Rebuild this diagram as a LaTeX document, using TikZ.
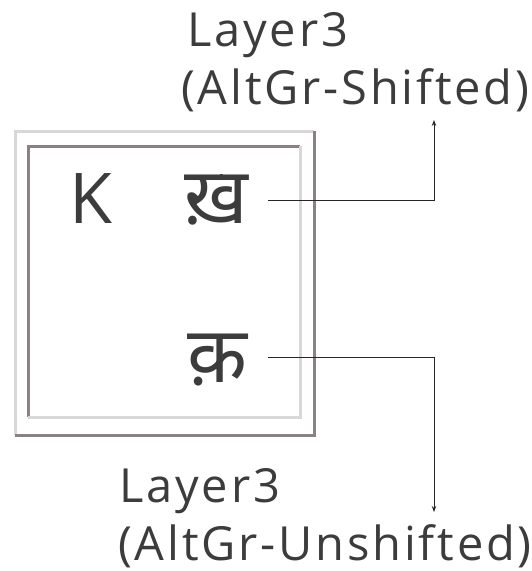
\documentclass[tikz,border=0pt]{standalone}
\usepackage{fontspec}
\setmainfont{Open Sans}
\newfontfamily\labfont[LetterSpace=6]{Open Sans}
\newfontfamily\devfont[Script=Devanagari]{Noto Sans}
\usetikzlibrary{arrows.meta}
\definecolor{darkfr}{HTML}{8A8282}
\definecolor{lightfr}{HTML}{D8D8D8}
\definecolor{txt}{HTML}{3C3C3C}
\tikzset{
  lab/.style={inner sep=0pt, anchor=base west, text=txt, font=\labfont\fontsize{47}{58}\selectfont},
  glyph/.style={inner sep=0pt, anchor=base west, text=txt},
  darkedge/.style={draw=darkfr, line width=3pt},
  lightedge/.style={draw=lightfr, line width=3pt},
  conn/.style={draw=black!85, line width=1pt},
  tip/.style={-{Stealth[length=6pt,width=4.5pt]}}
}
\begin{document}
\begin{tikzpicture}[x=1pt,y=-1pt]
\useasboundingbox (0,0) rectangle (531,571);
% bevelled key frame
\draw[lightedge] (15,435) -- (15,131) -- (314,131);
\draw[darkedge] (314,131) -- (314,435) -- (15,435);
\draw[darkedge] (28,417) -- (28,146) -- (300,146);
\draw[lightedge] (300,146) -- (300,417) -- (28,417);
% key legends
\node[glyph, font=\fontsize{70}{70}\selectfont\color{black!60}] (k) at (69,223) {K};
\node[glyph, font=\devfont\fontsize{78}{78}\selectfont] (kha) at (184,223) {ख़};
\node[glyph, font=\devfont\fontsize{78}{78}\selectfont] (ka) at (187,382) {क़};
% labels
\node[lab] (t1) at (187,46) {Layer3};
\node[lab] (t2) at (181,104) {(AltGr-Shifted)};
\node[lab] (b1) at (119,502) {Layer3};
\node[lab] (b2) at (118,560) {(AltGr-Unshifted)};
% connectors
\coordinate (s1) at (268,200);
\coordinate (c1) at (434,200);
\coordinate (e1) at (434,120);
\coordinate (s2) at (268,357);
\coordinate (c2) at (434,357);
\coordinate (e2) at (434,512);
\draw[conn, tip] (s1) -- (c1) -- (e1);
\draw[conn, tip] (s2) -- (c2) -- (e2);
\end{tikzpicture}
\end{document}
